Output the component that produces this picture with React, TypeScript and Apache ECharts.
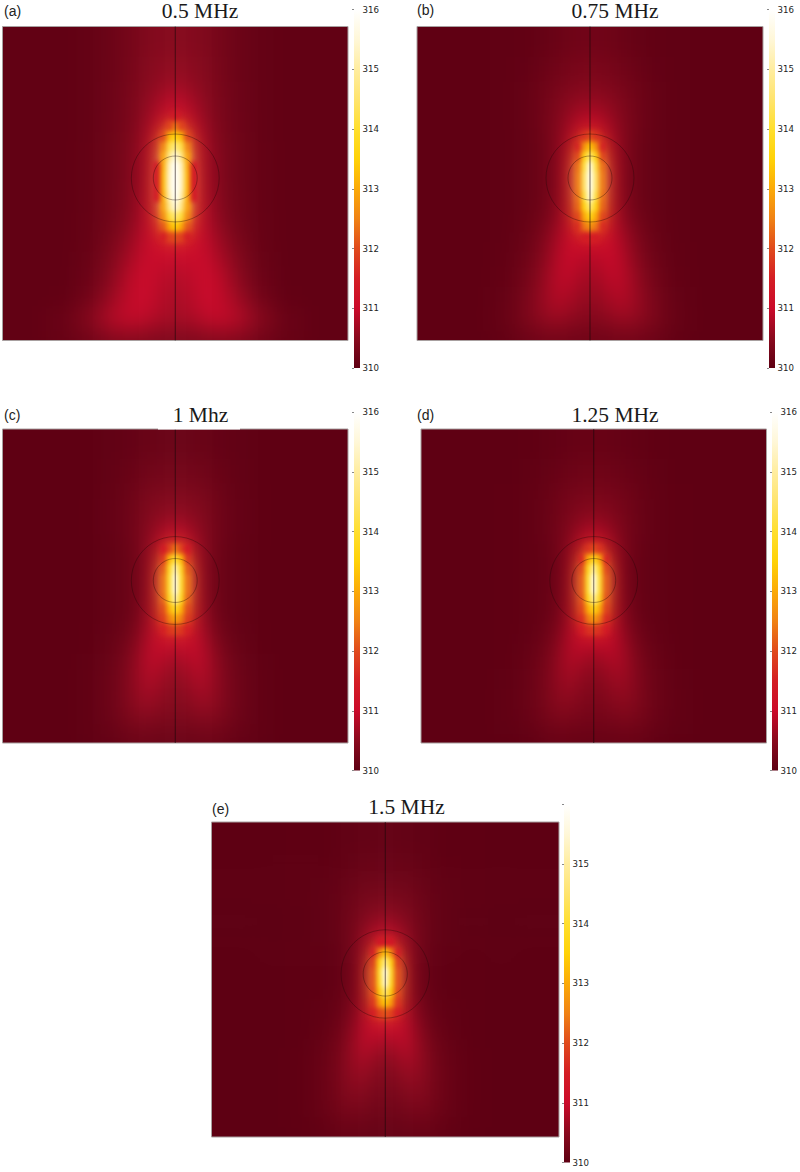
import React, { useEffect, useRef } from "react";
import * as echarts from "echarts";

// Half-column right edges, measured outward from the axis (central column spans -3..3). Outer edge runs past the frame for the blur.
const columnEdges = [3, 9, 15, 22, 30, 40, 55, 75, 100, 130, 205];
// Row edges measured downward from the frame top.
const rowEdges = [-32, 30, 55, 70, 85, 95, 105, 115, 125, 135, 145, 155, 165, 175, 185, 195, 205, 215, 225, 240, 260, 280, 295, 305, 346];

// Temperature rise above 310: one row per rowEdges band, axis outward (field is axisymmetric).
const riseA = [
  [.45,.45,.45,.43,.40,.34,.26,.15,.08,.05,.05],
  [.55,.55,.53,.50,.45,.38,.27,.15,.08,.05,.05],
  [.72,.70,.65,.58,.50,.40,.29,.16,.08,.05,.05],
  [.98,.92,.82,.70,.57,.44,.30,.16,.08,.05,.05],
  [1.3,1.15,.98,.80,.62,.46,.31,.17,.08,.05,.05],
  [2.4,1.9,1.2,.92,.70,.50,.32,.17,.08,.05,.05],
  [3.6,3.2,1.9,1.1,.76,.52,.33,.18,.08,.05,.05],
  [4.7,4.2,2.5,1.15,.80,.55,.35,.18,.09,.05,.05],
  [5.6,4.8,2.9,1.2,.82,.56,.36,.18,.09,.05,.05],
  [6.0,5.3,3.1,1.25,.85,.58,.36,.18,.09,.05,.05],
  [6.0,5.4,3.2,1.25,.85,.58,.36,.18,.09,.05,.05],
  [6.0,5.4,3.2,1.25,.85,.60,.38,.18,.09,.05,.05],
  [6.0,5.2,3.1,1.25,.90,.62,.38,.20,.09,.05,.05],
  [5.6,4.8,2.9,1.22,.92,.66,.40,.20,.09,.05,.05],
  [4.6,4.1,2.6,1.18,.95,.70,.44,.22,.10,.05,.05],
  [3.5,3.0,2.1,1.15,.98,.74,.48,.24,.10,.05,.05],
  [2.0,1.9,1.4,1.1,1.0,.82,.55,.28,.10,.05,.05],
  [1.15,1.15,1.1,1.05,1.0,.88,.62,.32,.11,.05,.05],
  [.95,.98,1.0,1.0,1.0,.92,.70,.38,.13,.05,.05],
  [.80,.82,.86,.92,1.0,1.0,.85,.46,.16,.05,.05],
  [.72,.74,.80,.88,.98,1.0,.92,.60,.22,.06,.05],
  [.70,.70,.74,.80,.88,.95,.95,.78,.42,.12,.05],
  [.60,.60,.62,.66,.72,.80,.85,.75,.40,.14,.06],
  [.35,.35,.35,.36,.38,.40,.42,.36,.22,.10,.05],
];
const riseB = [
  [.22,.22,.22,.20,.18,.14,.09,.05,.03,.02,.02],
  [.34,.34,.32,.30,.27,.22,.15,.07,.03,.02,.02],
  [.46,.46,.44,.41,.36,.30,.20,.09,.03,.02,.02],
  [.62,.62,.58,.52,.44,.35,.22,.09,.03,.02,.02],
  [.88,.84,.76,.64,.50,.37,.22,.09,.03,.02,.02],
  [1.15,1.08,.92,.72,.54,.38,.22,.09,.03,.02,.02],
  [2.0,1.7,1.15,.84,.56,.38,.20,.08,.03,.02,.02],
  [3.3,2.7,1.45,.95,.58,.36,.18,.08,.03,.02,.02],
  [4.6,3.6,1.9,1.05,.60,.36,.18,.08,.03,.02,.02],
  [5.8,4.1,2.3,1.1,.62,.36,.18,.08,.03,.02,.02],
  [6.0,4.4,2.4,1.12,.62,.36,.18,.08,.03,.02,.02],
  [6.0,4.4,2.4,1.12,.62,.36,.18,.08,.03,.02,.02],
  [5.8,4.1,2.3,1.12,.64,.38,.18,.08,.03,.02,.02],
  [4.7,3.6,2.2,1.12,.68,.40,.20,.08,.03,.02,.02],
  [3.7,3.0,1.9,1.12,.74,.46,.24,.10,.03,.02,.02],
  [2.7,2.4,1.6,1.12,.84,.54,.30,.11,.03,.02,.02],
  [1.5,1.4,1.2,1.08,.92,.62,.36,.13,.03,.02,.02],
  [.98,1.0,1.05,1.05,.98,.70,.40,.15,.04,.02,.02],
  [.78,.82,.92,1.0,1.0,.76,.46,.18,.05,.02,.02],
  [.66,.70,.76,.88,.98,.86,.54,.24,.06,.02,.02],
  [.56,.58,.62,.72,.84,.84,.60,.30,.08,.02,.02],
  [.46,.46,.48,.56,.64,.70,.58,.34,.10,.02,.02],
  [.36,.36,.37,.40,.46,.50,.44,.28,.09,.02,.02],
  [.20,.20,.21,.22,.24,.26,.24,.16,.06,.02,.02],
];
const riseC = [
  [.15,.15,.14,.13,.12,.10,.07,.03,.02,.01,.01],
  [.25,.25,.24,.23,.22,.17,.11,.04,.02,.01,.01],
  [.36,.36,.35,.34,.33,.25,.15,.06,.02,.01,.01],
  [.48,.48,.46,.44,.38,.29,.17,.07,.02,.01,.01],
  [.62,.60,.56,.50,.42,.31,.17,.07,.02,.01,.01],
  [.85,.80,.72,.60,.45,.32,.17,.07,.02,.01,.01],
  [1.18,1.12,.96,.70,.46,.32,.17,.06,.02,.01,.01],
  [2.4,1.9,1.25,.82,.48,.30,.15,.05,.02,.01,.01],
  [4.1,3.2,1.7,.90,.50,.28,.14,.05,.02,.01,.01],
  [5.3,3.8,2.1,.95,.50,.27,.14,.05,.02,.01,.01],
  [5.9,4.0,2.3,1.0,.50,.28,.14,.05,.02,.01,.01],
  [5.9,4.0,2.3,1.0,.50,.28,.14,.05,.02,.01,.01],
  [5.2,3.8,2.2,1.0,.54,.29,.14,.05,.02,.01,.01],
  [3.9,3.1,1.95,1.05,.58,.30,.14,.05,.02,.01,.01],
  [2.9,2.5,1.8,1.08,.66,.34,.16,.05,.02,.01,.01],
  [1.9,1.8,1.45,1.08,.78,.42,.20,.07,.02,.01,.01],
  [1.05,1.05,1.05,1.05,.88,.50,.24,.08,.02,.01,.01],
  [.80,.85,.94,1.02,.94,.58,.30,.10,.02,.01,.01],
  [.62,.66,.78,.92,.96,.66,.36,.14,.03,.01,.01],
  [.50,.52,.60,.74,.86,.68,.40,.16,.04,.01,.01],
  [.42,.43,.46,.56,.68,.62,.40,.17,.05,.01,.01],
  [.33,.33,.34,.38,.44,.46,.34,.16,.05,.01,.01],
  [.24,.24,.24,.26,.28,.30,.24,.11,.04,.01,.01],
  [.15,.15,.15,.15,.16,.18,.15,.07,.03,.01,.01],
];
const riseD = [
  [.12,.12,.11,.10,.09,.07,.05,.02,.01,.01,.01],
  [.20,.20,.18,.18,.16,.12,.08,.03,.01,.01,.01],
  [.30,.30,.28,.27,.25,.19,.11,.04,.02,.01,.01],
  [.42,.42,.38,.36,.30,.22,.13,.05,.02,.01,.01],
  [.55,.53,.48,.42,.34,.24,.13,.05,.02,.01,.01],
  [.78,.74,.64,.50,.37,.25,.13,.05,.02,.01,.01],
  [1.08,1.02,.85,.58,.38,.25,.12,.05,.02,.01,.01],
  [2.0,1.7,1.15,.68,.40,.23,.10,.04,.02,.01,.01],
  [3.8,3.0,1.5,.80,.42,.21,.09,.04,.02,.01,.01],
  [5.1,3.7,1.9,.85,.42,.21,.09,.04,.02,.01,.01],
  [5.9,4.0,2.1,.90,.43,.21,.09,.04,.02,.01,.01],
  [5.9,4.0,2.1,.90,.43,.22,.09,.04,.02,.01,.01],
  [5.0,3.7,2.0,.92,.46,.23,.10,.04,.02,.01,.01],
  [3.7,3.0,1.85,.95,.48,.24,.10,.04,.02,.01,.01],
  [2.8,2.4,1.6,1.0,.54,.28,.12,.04,.02,.01,.01],
  [1.8,1.7,1.35,1.0,.66,.35,.16,.06,.02,.01,.01],
  [1.02,1.02,1.0,.98,.74,.42,.20,.07,.02,.01,.01],
  [.72,.78,.88,.96,.82,.48,.24,.08,.02,.01,.01],
  [.55,.58,.68,.84,.84,.56,.28,.11,.02,.01,.01],
  [.42,.44,.50,.64,.74,.58,.32,.13,.03,.01,.01],
  [.33,.34,.37,.46,.56,.52,.33,.14,.04,.01,.01],
  [.26,.26,.27,.30,.36,.38,.28,.12,.04,.01,.01],
  [.18,.18,.18,.20,.22,.24,.18,.08,.03,.01,.01],
  [.11,.11,.11,.11,.12,.14,.11,.05,.02,.01,.01],
];
const riseE = [
  [.08,.08,.07,.06,.05,.04,.03,.01,.01,0,0],
  [.14,.14,.12,.12,.11,.08,.05,.02,.01,0,0],
  [.22,.22,.20,.20,.18,.14,.07,.03,.01,0,0],
  [.34,.34,.30,.29,.25,.17,.09,.03,.01,0,0],
  [.48,.46,.41,.37,.30,.20,.10,.03,.01,0,0],
  [.68,.65,.56,.46,.34,.22,.10,.03,.01,0,0],
  [.92,.88,.76,.56,.36,.22,.10,.03,.01,0,0],
  [1.4,1.25,1.0,.66,.38,.21,.09,.03,.01,0,0],
  [3.4,2.5,1.35,.74,.38,.19,.07,.02,.01,0,0],
  [4.9,3.6,1.8,.80,.38,.18,.07,.02,.01,0,0],
  [5.9,3.9,2.0,.85,.38,.18,.07,.02,.01,0,0],
  [5.7,3.8,2.0,.85,.38,.19,.07,.02,.01,0,0],
  [4.6,3.4,1.9,.85,.40,.20,.08,.02,.01,0,0],
  [3.4,2.8,1.7,.90,.46,.24,.09,.03,.01,0,0],
  [2.1,1.9,1.4,.98,.56,.30,.12,.04,.01,0,0],
  [1.15,1.15,1.1,.98,.68,.36,.16,.05,.01,0,0],
  [.85,.90,.98,1.0,.78,.42,.20,.06,.01,0,0],
  [.62,.68,.84,.98,.82,.48,.24,.08,.01,0,0],
  [.48,.52,.64,.82,.82,.52,.28,.10,.02,0,0],
  [.36,.38,.44,.58,.68,.54,.30,.11,.02,0,0],
  [.27,.28,.30,.38,.48,.46,.28,.11,.02,0,0],
  [.20,.20,.21,.24,.30,.32,.24,.10,.02,0,0],
  [.14,.14,.14,.15,.17,.19,.15,.06,.02,0,0],
  [.09,.09,.09,.09,.10,.12,.10,.04,.01,0,0],
];

const panelRises = [riseA, riseB, riseC, riseD, riseE];
const panelTitles = ["0.5 MHz", "0.75 MHz", "1 Mhz", "1.25 MHz", "1.5 MHz"];
const panelTags = ["(a)", "(b)", "(c)", "(d)", "(e)"];
const colorbarTicks = [310, 311, 312, 313, 314, 315, 316];
const unlabelledTicks = [[], [], [], [], [316]];
const colorStops = [
  "#5e0013", "#8a0a1e", "#cb0a2a", "#d41e24", "#e04a1c", "#f08214", "#fbaa08",
  "#ffd207", "#ffdf2e", "#ffe46e", "#ffeda0", "#fff7d8", "#ffffff",
];
const circleRadii = [44, 22];
const circleAxisY = 151.5;

// Layout only.
const frames = [
  { x: 2.5, y: 26.5, w: 345.5, h: 314, barX: 354, barTop: 9.5, titleX: 200, titleY: 11, tagX: 4, tagY: 11 },
  { x: 417, y: 26.5, w: 346, h: 314, barX: 769, barTop: 9.5, titleX: 615, titleY: 11, tagX: 417, tagY: 10 },
  { x: 2.5, y: 429, w: 345.5, h: 314, barX: 354, barTop: 412, titleX: 200.5, titleY: 415, tagX: 4, tagY: 415 },
  { x: 421, y: 429, w: 345.5, h: 314, barX: 772, barTop: 412, titleX: 615, titleY: 415, tagX: 417, tagY: 415 },
  { x: 211.5, y: 822, w: 347.5, h: 315, barX: 564, barTop: 804, titleX: 406.5, titleY: 807, tagX: 212, tagY: 809 },
];
const HALF = 173;
const OUT = 32;
const PAD = 44; // the blurred layers run past the page so that their blur has no cut edge
const BAR_W = 6;
const BAR_H = 358.5;
const SHARP_FROM = 311.25;

function cells(rise: number[][], keep: (t: number) => boolean) {
  const out: number[][] = [];
  const xs = [...columnEdges].reverse().map((e) => -e).concat(columnEdges);
  rise.forEach((row, r) => {
    const full = [...row.slice(1).reverse(), ...row];
    full.forEach((v, c) => {
      if (keep(310 + v)) out.push([xs[c], xs[c + 1], rowEdges[r], rowEdges[r + 1], 310 + v]);
    });
  });
  return out;
}

function fieldOption(keep: (t: number) => boolean) {
  const grid: any[] = [], xAxis: any[] = [], yAxis: any[] = [], series: any[] = [];
  frames.forEach((f, i) => {
    const sx = f.w / (2 * HALF);
    const sy = f.h / 314;
    grid.push({ left: PAD + f.x - OUT * sx, top: PAD + f.y - OUT * sy, width: f.w + 2 * OUT * sx, height: f.h + 2 * OUT * sy, show: false });
    xAxis.push({ gridIndex: i, type: "value", min: -HALF - OUT, max: HALF + OUT, show: false });
    yAxis.push({ gridIndex: i, type: "value", min: -OUT, max: 314 + OUT, inverse: true, show: false });
    series.push({
      type: "custom", xAxisIndex: i, yAxisIndex: i, clip: false, silent: true,
      encode: { x: [0, 1], y: [2, 3] },
      data: cells(panelRises[i], keep),
      renderItem: (_p: any, api: any) => {
        const a = api.coord([api.value(0), api.value(2)]);
        const b = api.coord([api.value(1), api.value(3)]);
        return { type: "rect", shape: { x: a[0], y: a[1], width: b[0] - a[0] + 0.5, height: b[1] - a[1] + 0.5 }, style: { fill: api.visual("color") } };
      },
    });
  });
  return {
    animation: false, backgroundColor: "transparent", grid, xAxis, yAxis, series,
    visualMap: { type: "continuous", show: false, min: 310, max: 316, dimension: 4, seriesIndex: series.map((_, i) => i), inRange: { color: colorStops } },
  };
}

function overlayOption() {
  const grid: any[] = [], xAxis: any[] = [], yAxis: any[] = [], series: any[] = [], title: any[] = [], graphic: any[] = [];
  frames.forEach((f, i) => {
    const g1 = grid.length;
    grid.push({ left: f.x, top: f.y, width: f.w, height: f.h, show: true, borderColor: "#a8a0a0", borderWidth: 1, backgroundColor: "transparent" });
    xAxis.push({ gridIndex: g1, type: "value", min: -HALF, max: HALF, show: false });
    yAxis.push({ gridIndex: g1, type: "value", min: 0, max: 314, inverse: true, show: false });
    const a1 = yAxis.length - 1;
    series.push({
      type: "line", xAxisIndex: g1, yAxisIndex: a1, symbol: "none", silent: true,
      lineStyle: { color: "rgba(20,8,8,0.75)", width: 0.8 },
      data: [[0, 0], [0, 314]],
    });
    series.push({
      type: "custom", xAxisIndex: g1, yAxisIndex: a1, silent: true, clip: false,
      encode: { x: 0, y: 1 },
      data: circleRadii.map((r) => [0, circleAxisY, r]),
      renderItem: (_p: any, api: any) => {
        const c = api.coord([api.value(0), api.value(1)]);
        return { type: "circle", shape: { cx: c[0], cy: c[1], r: api.size([api.value(2), 0])[0] }, style: { fill: "transparent", stroke: "rgba(30,5,5,0.5)", lineWidth: 0.7 } };
      },
    });
    const g2 = grid.length;
    grid.push({ left: f.barX, top: f.barTop, width: BAR_W, height: BAR_H, show: false });
    xAxis.push({ gridIndex: g2, type: "value", min: 0, max: 1, show: false });
    yAxis.push({
      gridIndex: g2, type: "value", min: colorbarTicks[0], max: colorbarTicks[6], interval: 1, position: "right",
      splitLine: { show: false }, axisLine: { show: false },
      axisTick: { show: false },
      axisLabel: {
        fontFamily: "DejaVu Sans", fontSize: 8.6, color: "#222", margin: 2.5,
        formatter: (v: number) => (unlabelledTicks[i].includes(v as never) ? "" : String(v)),
      },
    });
    const a2 = yAxis.length - 1;
    yAxis.push({
      gridIndex: g2, type: "value", min: colorbarTicks[0], max: colorbarTicks[6], interval: 1, position: "left",
      splitLine: { show: false }, axisLine: { show: false },
      axisTick: { show: true, length: 2, lineStyle: { color: "#555", width: 0.7 } },
      axisLabel: { show: false },
    });
    series.push({
      type: "custom", xAxisIndex: g2, yAxisIndex: a2, silent: true, clip: false,
      encode: { x: [0, 1], y: [2, 3] },
      data: [[0, 1, colorbarTicks[0], colorbarTicks[6]]],
      renderItem: (_p: any, api: any) => {
        const a = api.coord([api.value(0), api.value(3)]);
        const b = api.coord([api.value(1), api.value(2)]);
        return {
          type: "rect", shape: { x: a[0], y: a[1], width: b[0] - a[0], height: b[1] - a[1] },
          style: { fill: new echarts.graphic.LinearGradient(0, 1, 0, 0, colorStops.map((color, k) => ({ offset: k / (colorStops.length - 1), color }))) },
        };
      },
    });
    title.push({
      text: panelTitles[i], left: f.titleX, top: f.titleY, textAlign: "center", textVerticalAlign: "middle", padding: 0,
      textStyle: { fontFamily: "Liberation Serif", fontSize: 21.5, fontWeight: "normal", color: "#1a1a1a" },
    });
    title.push({
      text: panelTags[i], left: f.tagX, top: f.tagY, textAlign: "left", textVerticalAlign: "middle", padding: 0,
      textStyle: { fontFamily: "Liberation Sans", fontSize: 14, fontWeight: "normal", color: "#222" },
    });
  });
  graphic.push({ type: "rect", x: 158, y: 427.5, shape: { width: 82, height: 2 }, style: { fill: "#fff" }, z: 10 });
  return { animation: false, backgroundColor: "transparent", grid, xAxis, yAxis, series, title, graphic };
}

const fieldClip = frames
  .map((f) => `M${PAD + f.x} ${PAD + f.y}H${PAD + f.x + f.w}V${PAD + f.y + f.h}H${PAD + f.x}Z`)
  .join(" ");

export default function App() {
  const softRef = useRef<HTMLDivElement>(null);
  const sharpRef = useRef<HTMLDivElement>(null);
  const overlayRef = useRef<HTMLDivElement>(null);
  useEffect(() => {
    document.body.style.margin = "0";
    document.body.style.background = "#fff";
    const soft = echarts.init(softRef.current!, undefined, { renderer: "svg" });
    const sharp = echarts.init(sharpRef.current!, undefined, { renderer: "svg" });
    const overlay = echarts.init(overlayRef.current!, undefined, { renderer: "svg" });
    soft.setOption(fieldOption(() => true));
    sharp.setOption(fieldOption((t) => t >= SHARP_FROM));
    overlay.setOption(overlayOption());
    return () => {
      soft.dispose();
      sharp.dispose();
      overlay.dispose();
    };
  }, []);
  const box: React.CSSProperties = { position: "absolute", left: 0, top: 0, width: 800, height: 1172 };
  const padded: React.CSSProperties = { position: "absolute", left: -PAD, top: -PAD, width: 800 + 2 * PAD, height: 1172 + 2 * PAD, clipPath: `path("${fieldClip}")` };
  return (
    <div style={{ position: "relative", width: 800, height: 1172, overflow: "hidden" }}>
      <div ref={softRef} style={{ ...padded, filter: "blur(10px)" }} />
      <div ref={sharpRef} style={{ ...padded, filter: "blur(2.4px)" }} />
      <div ref={overlayRef} style={box} />
    </div>
  );
}
